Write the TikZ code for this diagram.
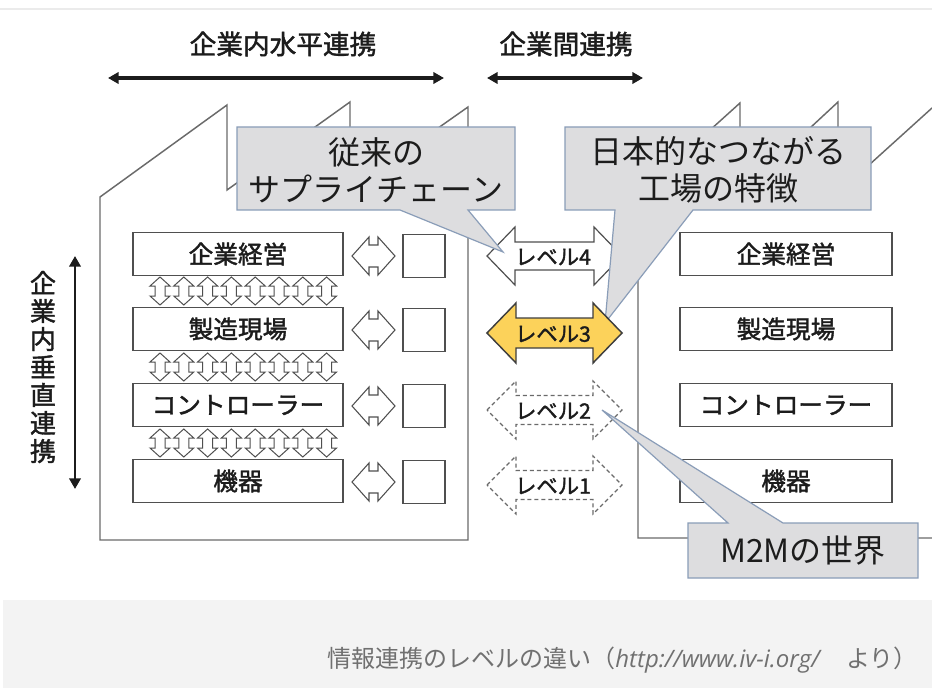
\documentclass[tikz,border=0pt]{standalone}
\usepackage{fontspec}
\setmainfont{Noto Sans CJK JP}
\newfontfamily\jpb{Noto Sans CJK JP}[FakeBold=1.6]
\newfontfamily\urlfont{Open Sans}
\usetikzlibrary{arrows.meta}
\definecolor{ink}{HTML}{1C1C1C}
\definecolor{boxline}{HTML}{4F4F4F}
\definecolor{factline}{HTML}{6A6A6A}
\definecolor{callfill}{HTML}{DDDDDF}
\definecolor{callline}{HTML}{8A9DB8}
\definecolor{gold}{HTML}{FCD25A}
\definecolor{band}{HTML}{F3F3F3}
\definecolor{captxt}{HTML}{707070}
\newcommand\harrowpath[7]{\draw[#1] ({#2-#4},{#3}) -- ({#2-#4+#7},{#3-#5}) -- ({#2-#4+#7},{#3-#6}) -- ({#2+#4-#7},{#3-#6}) -- ({#2+#4-#7},{#3-#5}) -- ({#2+#4},{#3}) -- ({#2+#4-#7},{#3+#5}) -- ({#2+#4-#7},{#3+#6}) -- ({#2-#4+#7},{#3+#6}) -- ({#2-#4+#7},{#3+#5}) -- cycle;}
\newcommand\varrowpath[7]{\draw[#1] ({#2},{#3-#4}) -- ({#2+#5},{#3-#4+#7}) -- ({#2+#6},{#3-#4+#7}) -- ({#2+#6},{#3+#4-#7}) -- ({#2+#5},{#3+#4-#7}) -- ({#2},{#3+#4}) -- ({#2-#5},{#3+#4-#7}) -- ({#2-#6},{#3+#4-#7}) -- ({#2-#6},{#3-#4+#7}) -- ({#2-#5},{#3-#4+#7}) -- cycle;}
\begin{document}
\begin{tikzpicture}[x=0.75pt,y=-0.75pt,
  fact/.style={draw=factline,line width=1.1pt,line join=miter},
  lbox/.style={draw=boxline,line width=1.2pt,fill=white,minimum width=157.5pt,minimum height=32.5pt,inner sep=0pt,text=ink,font=\jpb\fontsize{18.5}{20}\selectfont},
  sqbox/.style={draw=boxline,line width=1.2pt,fill=white,minimum width=31.5pt,minimum height=32pt,inner sep=0pt},
  smallh/.style={draw=boxline,line width=0.8pt,fill=white,line join=miter},
  smallv/.style={draw=boxline,line width=0.75pt,fill=white,line join=miter},
  lvsolid/.style={draw=boxline,line width=0.9pt,fill=white,line join=miter},
  lvgold/.style={draw=ink!85,line width=1.1pt,fill=gold,line join=miter},
  lvdash/.style={draw=factline,line width=0.9pt,dash pattern=on 3pt off 2.2pt,fill=white,line join=miter},
  lvtext/.style={text=ink,font=\jpb\fontsize{16}{17}\selectfont,inner sep=0pt},
  callout/.style={draw=callline,line width=0.9pt,fill=callfill,line join=miter},
  calltext/.style={text=ink,align=center,font=\fontsize{24}{27.75}\selectfont,inner sep=0pt},
  toptext/.style={text=ink,font=\jpb\fontsize{20}{22}\selectfont,inner sep=0pt},
  bigarrow/.style={draw=ink,line width=2.4pt,{Triangle[length=8pt,width=8.5pt]}-{Triangle[length=8pt,width=8.5pt]}},
]
\useasboundingbox (0,0) rectangle (932,688);
% page furniture
\fill[white] (0,0) rectangle (932,688);
\draw[black!8,line width=0.8pt] (0,9) -- (932,9);
\fill[band] (3,600) rectangle (932,688);
\node[anchor=east,text=captxt,font=\fontsize{18}{20}\selectfont,inner sep=0pt] (cap) at (918,660)
  {情報連携のレベルの違い（{\urlfont\itshape http://www.iv-i.org/}\hspace{1.1em}より）};

% top labels and arrows
\node[toptext] (hz) at (283,44) {企業内水平連携};
\node[toptext] (ic) at (566,44) {企業間連携};
\coordinate (hzL) at (108,78); \coordinate (hzR) at (444,78);
\coordinate (icL) at (487,78); \coordinate (icR) at (643,78);
\draw[bigarrow] (hzL) -- (hzR);
\draw[bigarrow] (icL) -- (icR);

% vertical label and arrow
\node[text=ink,align=center,font=\jpb\fontsize{19.5}{21}\selectfont,inner sep=0pt] (vt) at (43,367) {企\\業\\内\\垂\\直\\連\\携};
\coordinate (vT) at (75,256); \coordinate (vB) at (75,489);
\draw[bigarrow,line width=2pt] (vT) -- (vB);

% factories
\draw[fact,fill=white] (100,540) -- (100,197) -- (227,105) -- (227,190) -- (350,102) -- (350,190) -- (468,107) -- (468,540) -- cycle;
\fill[white] (638,538) -- (638,195) -- (740,103) -- (740,193) -- (838,102) -- (838,193) -- (932,108) -- (932,538) -- cycle;
\draw[fact] (932,538) -- (638,538) -- (638,195) -- (740,103) -- (740,193) -- (838,102) -- (838,193) -- (932,108);

% left factory layers
\node[lbox] (L1) at (238,254) {企業経営};
\node[lbox] (L2) at (238,329) {製造現場};
\node[lbox] (L3) at (238,405) {コントローラー};
\node[lbox] (L4) at (238,481) {機器};
\foreach \r in {291,367,443}{
  \foreach \k in {0,...,7}{
    \varrowpath{smallv}{160+23.8*\k}{\r}{14}{10}{5}{9}
  }
}
\foreach \r/\n in {256/1,330/2,406/3,482/4}{
  \harrowpath{smallh}{373.5}{\r}{21.5}{19}{11}{17}
  \node[sqbox] (S\n) at (424,\r) {};
}

% right factory layers
\node[lbox,minimum width=159pt] (R1) at (786,254) {企業経営};
\node[lbox,minimum width=159pt] (R2) at (786,329) {製造現場};
\node[lbox,minimum width=159pt] (R3) at (786,405) {コントローラー};
\node[lbox,minimum width=159pt] (R4) at (786,481) {機器};

% level arrows
\harrowpath{lvsolid}{554.5}{256}{67.5}{29}{14}{28}
\node[lvtext] (lv4) at (553,257) {レベル4};
\harrowpath{lvdash}{554.5}{410}{67.5}{29}{14.5}{29}
\node[lvtext] (lv2) at (553,411) {レベル2};
\harrowpath{lvdash}{554.5}{485}{67.5}{29}{14.5}{29}
\node[lvtext] (lv1) at (553,486) {レベル1};

% callouts
\draw[callout] (237,127) -- (515,127) -- (515,210) -- (468,210) -- (503,252) -- (400,210) -- (237,210) -- cycle;
\node[calltext] (c1) at (376,170) {従来の\\サプライチェーン};
\draw[callout] (565,127) -- (871,127) -- (871,210) -- (693,210) -- (605,323) -- (615,210) -- (565,210) -- cycle;
\node[calltext] (c2) at (718,170) {日本的なつながる\\工場の特徴};
\draw[callout] (688,523) -- (728,523) -- (602,410) -- (783,523) -- (918,523) -- (918,578) -- (688,578) -- cycle;
\node[calltext] (c3) at (803,551) {M2Mの世界};

% level 3 (highlighted)
\harrowpath{lvgold}{554.5}{333}{67.5}{30}{15}{29}
\node[lvtext] (lv3) at (553,334) {レベル3};
\end{tikzpicture}
\end{document}
